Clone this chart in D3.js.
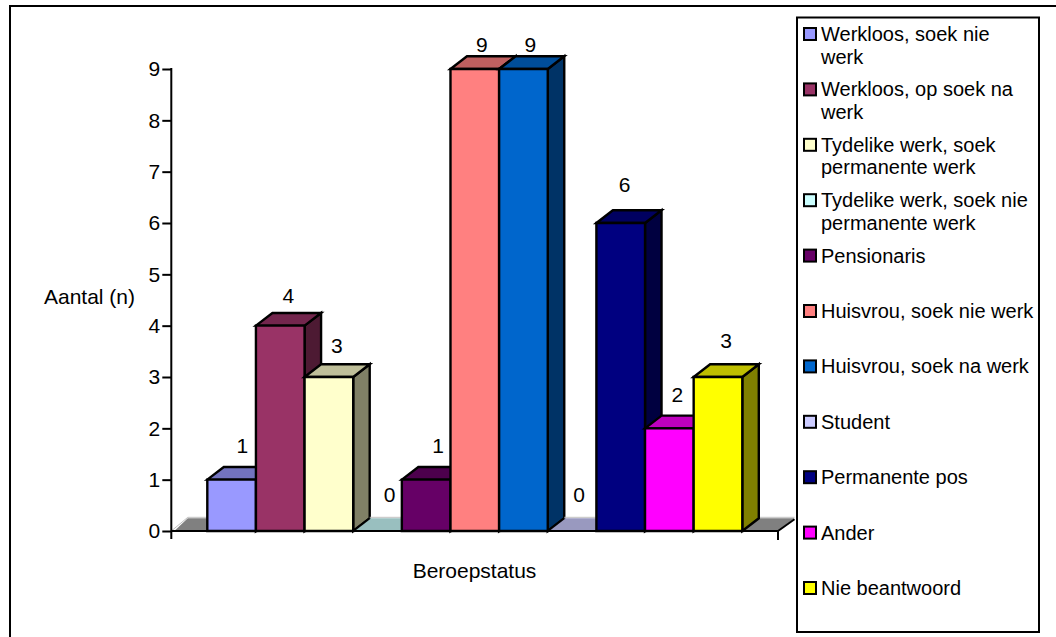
<!DOCTYPE html>
<html><head><meta charset="utf-8">
<script src="https://cdn.jsdelivr.net/npm/d3@7/dist/d3.min.js"></script>
<style>html,body{margin:0;padding:0;background:#fff}svg{display:block}text{font-family:"Liberation Sans",Arial,sans-serif;fill:#000}</style>
</head><body><div id="c"></div>
<script>
const categories = ["Werkloos, soek nie werk","Werkloos, op soek na werk","Tydelike werk, soek permanente werk","Tydelike werk, soek nie permanente werk","Pensionaris","Huisvrou, soek nie werk","Huisvrou, soek na werk","Student","Permanente pos","Ander","Nie beantwoord"];
const legendLines = [["Werkloos, soek nie","werk"],["Werkloos, op soek na","werk"],["Tydelike werk, soek","permanente werk"],["Tydelike werk, soek nie","permanente werk"],["Pensionaris"],["Huisvrou, soek nie werk"],["Huisvrou, soek na werk"],["Student"],["Permanente pos"],["Ander"],["Nie beantwoord"]];
const values = [1,4,3,0,1,9,9,0,6,2,3];
const colors = ["#9999FF","#993366","#FFFFCC","#CCFFFF","#660066","#FF8080","#0066CC","#CCCCFF","#000080","#FF00FF","#FFFF00"];
const yTicks = [0,1,2,3,4,5,6,7,8,9];
// label placement relative to each bar (centre x, front-top y)
const labelShiftX = [10.7,8,8,12,12,7,7,7,4,8,8];
const labelShiftY = [-26.7,-23,-24,-29,-26.7,-17,-17,-29,-31,-26.5,-29];

const W=1056,H=637, FS=20, NFS=21, TFS=21;
const DX=16.5, DY=12.7;
const svg=d3.select("#c").append("svg").attr("width",W).attr("height",H);
const y=d3.scaleLinear().domain([0,9]).range([531,69]);
const x=d3.scaleBand().domain(categories).range([171.3,778]);
const xb=d3.scaleBand().domain(categories).range([207.3,742.3]);
const poly=(pts)=>pts.map(p=>p.join(",")).join(" ");
const shade=(c,k)=>{const r=d3.rgb(c);return d3.rgb(r.r*k,r.g*k,r.b*k).formatHex();};

// frame
svg.append("path").attr("d",`M10,${H}V6H${W}`).attr("fill","none").attr("stroke","#000").attr("stroke-width",2);

// floor
const g=svg.append("g");
const y0=y(0), xL=x.range()[0], xR=x.range()[1];
g.append("polygon").attr("points",poly([[xL+3,y0],[xL+DX,y0-DY],[xb.range()[0],y0-DY],[xb.range()[0],y0]])).attr("fill","#808080");
g.append("polygon").attr("points",poly([[xb.range()[1],y0],[xb.range()[1]+DX,y0-DY],[xR+DX,y0-DY],[xR,y0]])).attr("fill","#808080");
g.append("path").attr("d",`M${xL},${y0}L${xL+DX},${y0-DY-1}H${xb.range()[0]}M${xb.range()[1]+DX},${y0-DY-1}H${xR+DX}`).attr("fill","none").attr("stroke","#c0c0c0").attr("stroke-width",1);
g.append("path").attr("d",`M${xR},${y0}L${xR+DX},${y0-DY+1}`).attr("stroke","#000").attr("stroke-width",2);

// bars
const bars=g.selectAll("g.b").data(categories).join("g").attr("class","b");
bars.each(function(c,i){
  const s=d3.select(this), v=values[i], l=xb(c), r=l+xb.bandwidth(), t=y(v), b=y0;
  if(v===0){
    s.append("polygon").attr("points",poly([[l,b],[l+DX,b-DY],[r+DX,b-DY],[r,b]])).attr("fill",shade(colors[i],.75));
    s.append("path").attr("d",`M${l+DX},${b-DY-1}H${r+DX}`).attr("fill","none").attr("stroke","#c0c0c0").attr("stroke-width",1);
    s.append("path").attr("d",`M${l},${b}L${l+DX},${b-DY}`).attr("stroke","#000").attr("stroke-width",2);
    return;
  }
  const add=(pts,f)=>s.append("polygon").attr("points",poly(pts)).attr("fill",f)
    .attr("stroke","#000").attr("stroke-width",2.4).attr("stroke-linejoin","miter");
  add([[r,t],[r+DX,t-DY],[r+DX,b-DY],[r,b]],shade(colors[i],.5));
  add([[l,t],[l+DX,t-DY],[r+DX,t-DY],[r,t]],shade(colors[i],.75));
  add([[l,t],[r,t],[r,b],[l,b]],colors[i]);
});
// value labels
svg.selectAll("text.v").data(categories).join("text").attr("class","v")
  .attr("x",(c,i)=>xb(c)+xb.bandwidth()/2+labelShiftX[i])
  .attr("y",(c,i)=>y(values[i])+labelShiftY[i])
  .attr("text-anchor","middle").attr("font-size",NFS)
  .text((c,i)=>values[i]);

// axes
const yAxis=d3.axisLeft(y).tickValues(yTicks).tickSize(9).tickPadding(2).tickFormat(d3.format("d"));
const ya=svg.append("g").attr("transform",`translate(${xL},0)`).call(yAxis);
ya.selectAll("path").attr("d",`M0,${y(9)-1}V${y0+8}`).attr("stroke","#000").attr("stroke-width",2);
ya.selectAll("line").attr("stroke","#000").attr("stroke-width",2);
ya.selectAll("text").attr("font-size",NFS).attr("font-family",null);
svg.append("line").attr("x1",xL).attr("x2",xR).attr("y1",y0).attr("y2",y0).attr("stroke","#000").attr("stroke-width",2);
svg.append("line").attr("x1",xR).attr("x2",xR).attr("y1",y0).attr("y2",y0+9).attr("stroke","#000").attr("stroke-width",2);

// axis titles
svg.append("text").attr("x",89.5).attr("y",304).attr("text-anchor","middle").attr("font-size",TFS).text("Aantal (n)");
svg.append("text").attr("x",474.5).attr("y",578).attr("text-anchor","middle").attr("font-size",TFS).text("Beroepstatus");

// legend
svg.append("rect").attr("x",797).attr("y",17.5).attr("width",242).attr("height",614.5).attr("fill","#fff").attr("stroke","#000").attr("stroke-width",2);
const ly=d3.scalePoint().domain(categories).range([34,588]);
const rows=svg.selectAll("g.l").data(categories).join("g").attr("class","l").attr("transform",c=>`translate(0,${ly(c)})`);
rows.append("rect").attr("x",804).attr("y",-6).attr("width",12).attr("height",12).attr("fill",(c,i)=>colors[i]).attr("stroke","#000").attr("stroke-width",2);
rows.each(function(c,i){
  d3.select(this).selectAll("text").data(legendLines[i]).join("text")
    .attr("x",821).attr("y",(d,j)=>7+j*22.6).attr("font-size",FS).text(d=>d);
});
</script></body></html>
